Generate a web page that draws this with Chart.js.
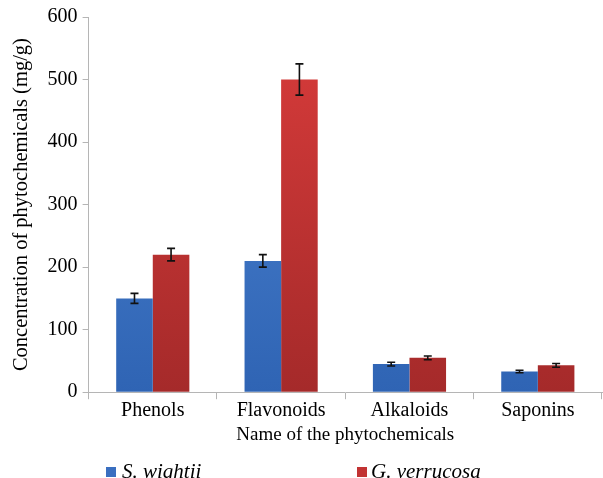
<!DOCTYPE html>
<html>
<head>
<meta charset="utf-8">
<script src="https://cdn.jsdelivr.net/npm/chart.js@4/dist/chart.umd.min.js"></script>
<style>
  html, body { margin: 0; padding: 0; background: #fff; }
  #wrap { width: 603px; height: 478px; }
</style>
</head>
<body>
<div id="wrap"><canvas id="c"></canvas></div>
<script>
// values (mg/g)
const categories = ['Phenols', 'Flavonoids', 'Alkaloids', 'Saponins'];
const wightii = [150, 210, 45, 33];
const wightiiErr = [8, 10, 3, 2];
const verrucosa = [220, 500, 55, 43];
const verrucosaErr = [10, 25, 3, 3];
const yTicks = [0, 100, 200, 300, 400, 500, 600];

const serif = "'Liberation Serif', 'Times New Roman', serif";
const blueSwatch = '#3a6fc0';
const redSwatch = '#c23333';

function vGrad(ctx, top, bottom) {
  const chart = ctx.chart;
  const area = chart.chartArea;
  if (!area) return top;
  const g = chart.ctx.createLinearGradient(0, area.top, 0, area.bottom);
  g.addColorStop(0, top);
  g.addColorStop(1, bottom);
  return g;
}

// error bars drawn on top of the bars
const errorBars = {
  id: 'errorBars',
  afterDatasetsDraw(chart) {
    const { ctx, scales: { y } } = chart;
    ctx.save();
    ctx.strokeStyle = '#111';
    ctx.lineWidth = 1.6;
    chart.data.datasets.forEach((ds, di) => {
      const meta = chart.getDatasetMeta(di);
      meta.data.forEach((bar, i) => {
        const v = ds.data[i], e = ds.errors[i];
        const yHi = y.getPixelForValue(v + e);
        const yLo = y.getPixelForValue(v - e);
        const x = bar.x;
        ctx.beginPath();
        ctx.moveTo(x, yHi); ctx.lineTo(x, yLo);
        ctx.moveTo(x - 4, yHi); ctx.lineTo(x + 4, yHi);
        ctx.moveTo(x - 4, yLo); ctx.lineTo(x + 4, yLo);
        ctx.stroke();
      });
    });
    ctx.restore();
  }
};

// legend spread wide along the bottom, like the original
const wideLegend = {
  id: 'wideLegend',
  afterDraw(chart) {
    const { ctx } = chart;
    const items = [
      { x: 106, gap: 16, label: chart.data.datasets[0].label, color: blueSwatch },
      { x: 357, gap: 14, label: chart.data.datasets[1].label, color: redSwatch }
    ];
    const yMid = 472;
    ctx.save();
    ctx.font = 'italic 21px ' + serif;
    ctx.textBaseline = 'middle';
    items.forEach(it => {
      ctx.fillStyle = it.color;
      ctx.fillRect(it.x, yMid - 5, 10, 10);
      ctx.fillStyle = '#000';
      ctx.fillText(it.label, it.x + it.gap, yMid);
    });
    ctx.restore();
  }
};

new Chart(document.getElementById('c'), {
  type: 'bar',
  data: {
    labels: categories,
    datasets: [
      {
        label: 'S. wightii',
        data: wightii,
        errors: wightiiErr,
        backgroundColor: c => vGrad(c, '#4f86d3', '#2f64b4'),
        borderWidth: 0,
        categoryPercentage: 0.57,
        barPercentage: 1.0
      },
      {
        label: 'G. verrucosa',
        data: verrucosa,
        errors: verrucosaErr,
        backgroundColor: c => vGrad(c, '#d93c3b', '#a52a2a'),
        borderWidth: 0,
        categoryPercentage: 0.57,
        barPercentage: 1.0
      }
    ]
  },
  options: {
    responsive: true,
    maintainAspectRatio: false,
    animation: false,
    layout: { padding: { top: 12, right: 1, left: 9, bottom: 32 } },
    plugins: {
      legend: { display: false },
      tooltip: { enabled: false }
    },
    scales: {
      x: {
        grid: { display: true, drawOnChartArea: false, offset: true, tickLength: 7, color: '#b5b5b5' },
        border: { display: true, color: '#b5b5b5' },
        ticks: { color: '#000', font: { family: serif, size: 20 }, padding: 0 },
        title: { display: true, text: 'Name of the phytochemicals', color: '#000', font: { family: serif, size: 19 }, padding: { top: 0, bottom: 0 } }
      },
      y: {
        min: 0, max: 600,
        afterBuildTicks: axis => { axis.ticks = yTicks.map(v => ({ value: v })); },
        grid: { display: true, drawOnChartArea: false, tickLength: 6, color: '#b5b5b5' },
        border: { display: true, color: '#b5b5b5' },
        ticks: { color: '#000', font: { family: serif, size: 20 }, padding: 5 },
        title: { display: true, text: 'Concentration of phytochemicals (mg/g)', color: '#000', font: { family: serif, size: 20.5 }, padding: { top: 0, bottom: 9 } }
      }
    }
  },
  plugins: [errorBars, wideLegend]
});
</script>
</body>
</html>
